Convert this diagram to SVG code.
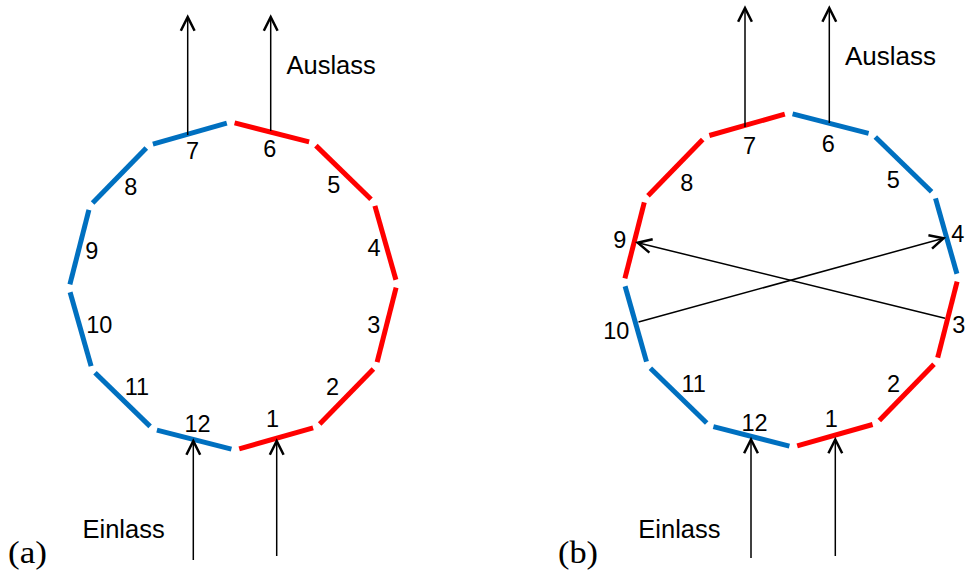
<svg xmlns="http://www.w3.org/2000/svg" width="966" height="574" viewBox="0 0 966 574">
<defs>
<marker id="arr" markerUnits="userSpaceOnUse" markerWidth="20" markerHeight="20" viewBox="-14 -8 16 16" refX="0" refY="0" orient="auto" overflow="visible">
<path d="M -11 -5.5 L 0 0 L -11 5.5" fill="none" stroke="#000" stroke-width="2"/>
</marker>
</defs>
<style>
.r{stroke:#FF0000;stroke-width:5;fill:none}
.b{stroke:#0070C0;stroke-width:5;fill:none}
.n{font-family:"Liberation Sans",Arial,sans-serif;font-size:23.5px;fill:#000;text-anchor:middle}
.lbl{font-family:"Liberation Sans",Arial,sans-serif;font-size:25.5px;fill:#000}
.cap{font-family:"Liberation Serif","Times New Roman",serif;font-size:32px;fill:#000}
.c{stroke:#000;stroke-width:1.5;fill:none;marker-end:url(#arr)}
</style>
<rect width="966" height="574" fill="#fff"/>

<!-- Diagram (a) -->
<g id="a-seg1"><line class="r" x1="313.1" y1="427.9" x2="239.2" y2="448.9"/><text class="n" x="272.5" y="427">1</text></g>
<g id="a-seg2"><line class="r" x1="373.4" y1="368.9" x2="319.7" y2="424.0"/><text class="n" x="332.5" y="394.5">2</text></g>
<g id="a-seg3"><line class="r" x1="396.1" y1="287.6" x2="377.1" y2="362.1"/><text class="n" x="373.7" y="333">3</text></g>
<g id="a-seg4"><line class="r" x1="374.9" y1="205.9" x2="395.9" y2="279.8"/><text class="n" x="374" y="255.5">4</text></g>
<g id="a-seg5"><line class="r" x1="315.9" y1="145.6" x2="371.0" y2="199.3"/><text class="n" x="333.8" y="193">5</text></g>
<g id="a-seg6"><line class="r" x1="234.6" y1="122.9" x2="309.1" y2="141.9"/><text class="n" x="269.7" y="157">6</text></g>
<g id="a-seg7"><line class="b" x1="152.9" y1="144.1" x2="226.8" y2="123.1"/><text class="n" x="192.5" y="158.5">7</text></g>
<g id="a-seg8"><line class="b" x1="92.6" y1="203.1" x2="146.3" y2="148.0"/><text class="n" x="130.7" y="195">8</text></g>
<g id="a-seg9"><line class="b" x1="69.9" y1="284.4" x2="88.9" y2="209.9"/><text class="n" x="91.8" y="258.5">9</text></g>
<g id="a-seg10"><line class="b" x1="91.1" y1="366.1" x2="70.1" y2="292.2"/><text class="n" x="99.3" y="333">10</text></g>
<g id="a-seg11"><line class="b" x1="150.1" y1="426.4" x2="95.0" y2="372.7"/><text class="n" x="137" y="394.5">11</text></g>
<g id="a-seg12"><line class="b" x1="231.4" y1="449.1" x2="156.9" y2="430.1"/><text class="n" x="197.5" y="432">12</text></g>
<g id="a-labels">
<text class="lbl" x="286.5" y="73.5">Auslass</text>
<text class="lbl" x="82.5" y="537.5">Einlass</text>
<text class="cap" x="8" y="563" textLength="39" lengthAdjust="spacingAndGlyphs">(a)</text>
</g>

<!-- Diagram (b) -->
<g id="b-seg1"><line class="r" x1="872.6" y1="424.5" x2="797.2" y2="445.9"/><text class="n" x="831.2" y="427">1</text></g>
<g id="b-seg2"><line class="r" x1="934.0" y1="364.3" x2="879.3" y2="420.6"/><text class="n" x="893.5" y="392">2</text></g>
<g id="b-seg3"><line class="r" x1="957.1" y1="281.6" x2="937.7" y2="357.6"/><text class="n" x="958.8" y="333">3</text></g>
<g id="b-seg4"><line class="b" x1="935.5" y1="198.4" x2="956.9" y2="273.8"/><text class="n" x="957.8" y="242">4</text></g>
<g id="b-seg5"><line class="b" x1="875.3" y1="137.0" x2="931.6" y2="191.7"/><text class="n" x="893.3" y="188">5</text></g>
<g id="b-seg6"><line class="b" x1="792.6" y1="113.9" x2="868.6" y2="133.3"/><text class="n" x="828.3" y="152">6</text></g>
<g id="b-seg7"><line class="r" x1="709.4" y1="135.5" x2="784.8" y2="114.1"/><text class="n" x="749.5" y="153.5">7</text></g>
<g id="b-seg8"><line class="r" x1="648.0" y1="195.7" x2="702.7" y2="139.4"/><text class="n" x="686.7" y="191">8</text></g>
<g id="b-seg9"><line class="r" x1="624.9" y1="278.4" x2="644.3" y2="202.4"/><text class="n" x="619.7" y="247.5">9</text></g>
<g id="b-seg10"><line class="b" x1="646.5" y1="361.6" x2="625.1" y2="286.2"/><text class="n" x="616.3" y="338.5">10</text></g>
<g id="b-seg11"><line class="b" x1="706.7" y1="423.0" x2="650.4" y2="368.3"/><text class="n" x="693.7" y="392">11</text></g>
<g id="b-seg12"><line class="b" x1="789.4" y1="446.1" x2="713.4" y2="426.7"/><text class="n" x="754.5" y="431">12</text></g>
<g id="b-labels">
<text class="lbl" x="845" y="65" style="font-size:26px">Auslass</text>
<text class="lbl" x="638.3" y="537.5">Einlass</text>
<text class="cap" x="558" y="563" textLength="40" lengthAdjust="spacingAndGlyphs">(b)</text>
</g>

<!-- Connectors -->
<g id="connectors">
<line class="c" x1="187.7" y1="135" x2="187.7" y2="17"/>
<line class="c" x1="270.7" y1="131" x2="270.7" y2="17"/>
<line class="c" x1="193.3" y1="560" x2="193.3" y2="441"/>
<line class="c" x1="276.7" y1="556" x2="276.7" y2="441"/>
<line class="c" x1="745" y1="127" x2="745" y2="8"/>
<line class="c" x1="829.3" y1="123" x2="829.3" y2="8"/>
<line class="c" x1="751" y1="558" x2="751" y2="439.5"/>
<line class="c" x1="835.3" y1="556" x2="835.3" y2="439.5"/>
<line class="c" x1="638.5" y1="322" x2="943.5" y2="238.3"/>
<line class="c" x1="945" y1="318.3" x2="637.7" y2="242.7"/>
</g>
</svg>
